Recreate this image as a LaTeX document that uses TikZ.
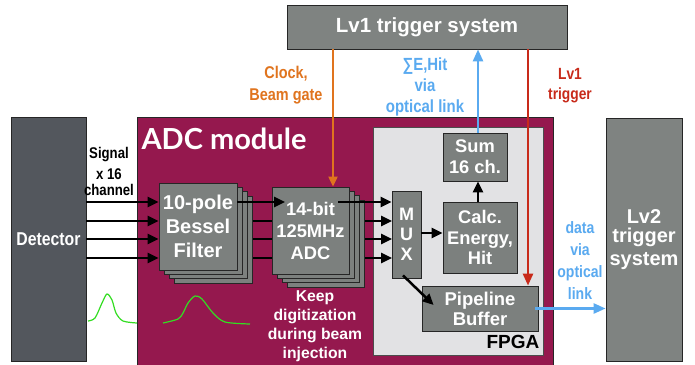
\documentclass[tikz,border=0pt]{standalone}
\usepackage{fontspec}
\setmainfont{Liberation Sans}
\newfontfamily\latofont{Lato}
\newfontfamily\condfont{Liberation Sans Bold}[FakeStretch=0.85]
\usetikzlibrary{arrows.meta,calc}
\definecolor{maroon}{HTML}{95184E}
\definecolor{boxgray}{HTML}{7C807E}
\definecolor{detgray}{HTML}{53575D}
\definecolor{fpgagray}{HTML}{E2E2E4}
\definecolor{sysgray}{HTML}{7F8381}
\definecolor{clkorange}{HTML}{E0741E}
\definecolor{optblue}{HTML}{5AAAF0}
\definecolor{trigred}{HTML}{C82A1A}
\definecolor{pulsegreen}{HTML}{33DD22}
\tikzset{
  gbox/.style={draw=black!85, line width=0.8pt, fill=boxgray, inner sep=0pt, text=white, align=center},
  sysbox/.style={draw=black!85, line width=0.8pt, fill=sysgray, inner sep=0pt, text=white, align=center},
  sigline/.style={line width=2.5pt, black},
  sigarrow/.style={line width=2.5pt, black, -{Triangle[length=11pt,width=10pt]}},
  clkarrow/.style={line width=2pt, clkorange, -{Triangle[length=10pt,width=9pt]}},
  bluearrow/.style={line width=2.5pt, optblue, -{Triangle[length=12pt,width=10pt]}},
  redarrow/.style={line width=2.5pt, trigred, -{Triangle[length=12pt,width=10pt]}},
  pulse/.style={line width=1.2pt, pulsegreen},
}
\begin{document}
\begin{tikzpicture}[x=1pt,y=-1pt]
\useasboundingbox (0,0) rectangle (695,364);
\fill[white] (0,0) rectangle (695,364);
% big containers
\node[draw=black!85, line width=0.8pt, fill=maroon, inner sep=0pt, minimum width=416pt, minimum height=248pt] (adcmod) at (345,241) {};
\node[draw=black!70, line width=0.8pt, fill=fpgagray, inner sep=0pt, minimum width=170pt, minimum height=228pt] (fpga) at (458,241) {};
\node[anchor=base west, text=white, font=\latofont\bfseries\fontsize{29}{32}\selectfont] (adclabel) at (138,149) {ADC module};
\node[anchor=center, text=black, font=\bfseries\fontsize{19}{22}\selectfont] (fpgalabel) at (513,342) {FPGA};
% system boxes
\node[sysbox, minimum width=280pt, minimum height=44pt, font=\bfseries\fontsize{20.5}{24}\selectfont] (lv1) at (427,27) {Lv1 trigger system};
\node[draw=black!85, line width=0.8pt, fill=detgray, inner sep=0pt, minimum width=75pt, minimum height=244pt, text=white, font=\condfont\fontsize{18.6}{21}\selectfont] (det) at (48.5,239) {\raisebox{-4pt}{Detector}};
\node[sysbox, minimum width=76pt, minimum height=243pt, font=\bfseries\fontsize{20}{22.5}\selectfont] (lv2) at (644,239.5) {\raisebox{-3pt}{Lv2}\\trigger\\system};
% hidden lines behind stacks
\foreach \y in {221,239,258} {
  \draw[sigline] (198,\y) -- (272,\y);
  \draw[sigarrow] (310,\y) -- (392,\y);
}
% stacks
\foreach \i in {3,2,1} {
  \node[gbox, minimum width=78pt, minimum height=87pt] (bes\i) at (198+5*\i,226.5+4.3*\i) {};
  \node[gbox, minimum width=77pt, minimum height=87pt] (adc\i) at (310.5+5*\i,230.5+4.3*\i) {};
}
\node[gbox, minimum width=78pt, minimum height=87pt, font=\bfseries\fontsize{20}{24}\selectfont] (bes) at (198,226.5) {10-pole\\Bessel\\Filter};
\node[gbox, minimum width=77pt, minimum height=87pt, font=\bfseries\fontsize{18.3}{22}\selectfont] (adc) at (310.5,230.5) {14-bit\\125MHz\\ADC};
\node[gbox, minimum width=29pt, minimum height=87pt, font=\bfseries\fontsize{18}{20}\selectfont] (mux) at (406.5,234.5) {M\\U\\X};
\node[gbox, minimum width=64pt, minimum height=48pt, font=\bfseries\fontsize{18.3}{21}\selectfont] (sum) at (475,157) {Sum\\16 ch.};
\node[gbox, minimum width=74pt, minimum height=71pt, font=\bfseries\fontsize{18.3}{20.5}\selectfont] (calc) at (480,237.5) {Calc.\\Energy,\\Hit};
\node[gbox, minimum width=116pt, minimum height=45pt, font=\bfseries\fontsize{18.5}{20}\selectfont] (pipe) at (480,308.5) {Pipeline\\Buffer};
% signal arrows
\foreach \y in {202,221,239,258}
  \draw[sigarrow] (det.east |- 0,\y) -- (bes.west |- 0,\y);
\draw[sigarrow] (bes.east |- 0,202) -- (285,202);
\draw[sigarrow] (338,202) -- (mux.west |- 0,202);
\draw[sigarrow] (mux.east |- 0,233) -- (calc.west |- 0,233);
\draw[sigarrow] (calc.north -| 478,0) -- (sum.south -| 478,0);
\draw[sigarrow] ([xshift=-3.5pt,yshift=3pt]mux.south) -- ([xshift=12pt,yshift=3.5pt]pipe.west);
% external links
\draw[clkarrow] (lv1.south -| 333,0) -- (adc.north -| 333,0);
\draw[bluearrow] (sum.north -| 478,0) -- (lv1.south -| 478,0);
\draw[redarrow] (lv1.south -| 528,0) -- (pipe.north -| 528,0);
\draw[bluearrow] ([xshift=-3pt]pipe.east) -- (pipe.east -| lv2.west);
% labels
\node[text=clkorange, align=center, font=\condfont\fontsize{17}{22}\selectfont] (clklabel) at (286,85) {Clock,\\Beam gate};
\node[text=optblue, align=center, font=\condfont\fontsize{17.6}{21}\selectfont] (sumlabel) at (425,86.5) {∑E,Hit\\via\\optical link};
\node[text=trigred, align=center, font=\condfont\fontsize{16.2}{20}\selectfont] (triglabel) at (570,86) {Lv1\\trigger};
\node[text=optblue, align=center, font=\condfont\fontsize{16.5}{21.7}\selectfont] (datalabel) at (580,260.5) {data\\via\\optical\\link};
\node[text=white, align=center, font=\bfseries\fontsize{15.7}{19}\selectfont] (keeplabel) at (315,326.5) {Keep\\digitization\\during beam\\injection};
\node[text=black, align=center, font=\condfont\fontsize{15.5}{15.5}\selectfont] (siglabel) at (109,171) {Signal\\[6pt]x 16\\channel};
% pulses
\draw[pulse] plot[smooth, tension=0.5] coordinates {(88,321) (95,318) (102,303) (107,294) (112,300) (116,313) (123,321) (137,323)};
\draw[pulse] plot[smooth, tension=0.5] coordinates {(163,323) (178,319) (183,313) (188,303) (195,296) (202,299) (213,313) (225,322) (250,324)};
\end{tikzpicture}
\end{document}
